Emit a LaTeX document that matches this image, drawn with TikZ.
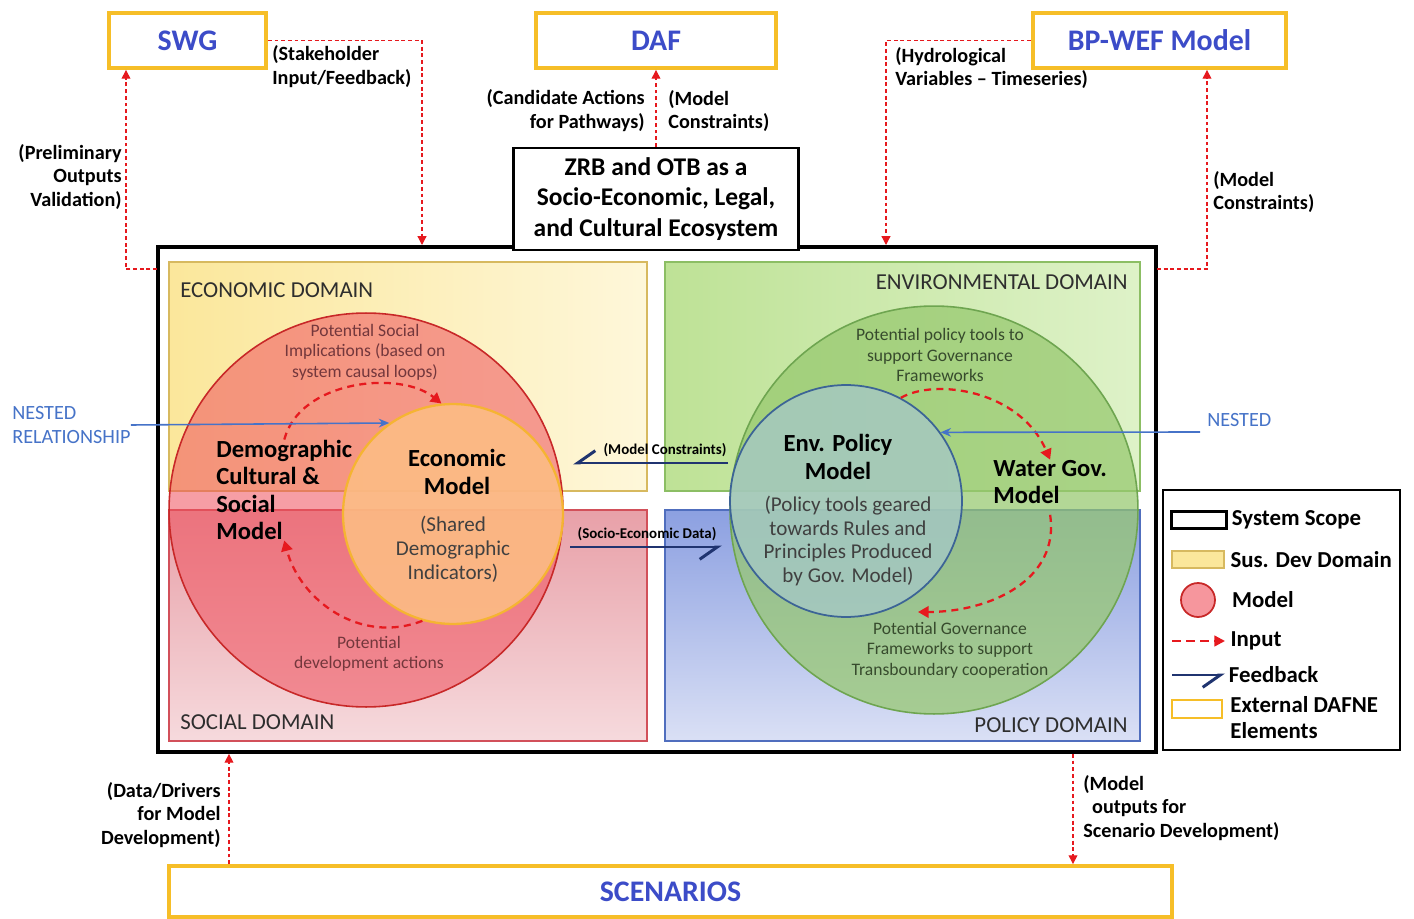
\documentclass[tikz,border=0pt]{standalone}
\usepackage{fontspec}
\setmainfont{Carlito}
\usetikzlibrary{arrows.meta,positioning}

\definecolor{extgold}{RGB}{246,190,40}
\definecolor{extblue}{RGB}{60,76,200}
\definecolor{inred}{RGB}{230,25,30}
\definecolor{fbnavy}{RGB}{32,52,112}
\definecolor{nestblue}{RGB}{70,115,200}
\definecolor{econA}{RGB}{251,231,155}
\definecolor{econB}{RGB}{254,247,218}
\definecolor{econE}{RGB}{215,185,95}
\definecolor{envA}{RGB}{190,226,150}
\definecolor{envB}{RGB}{222,242,200}
\definecolor{envE}{RGB}{140,190,100}
\definecolor{socA}{RGB}{232,160,168}
\definecolor{socB}{RGB}{246,218,221}
\definecolor{socE}{RGB}{210,80,90}
\definecolor{polA}{RGB}{140,160,225}
\definecolor{polB}{RGB}{218,224,245}
\definecolor{polE}{RGB}{80,110,190}
\definecolor{demofill}{RGB}{240,80,92}
\definecolor{demoline}{RGB}{200,40,40}
\definecolor{econfill}{RGB}{252,188,132}
\definecolor{econline}{RGB}{245,180,50}
\definecolor{wgovfill}{RGB}{150,200,110}
\definecolor{wgovline}{RGB}{110,165,80}
\definecolor{polfill}{RGB}{165,200,198}
\definecolor{polline}{RGB}{60,100,150}
\definecolor{rednote}{RGB}{115,55,60}
\definecolor{greennote}{RGB}{55,75,45}

\tikzset{
  extbox/.style={draw=extgold,line width=2.2pt,fill=white,inner sep=0pt,
    text=extblue,font=\fontsize{17}{20}\selectfont\bfseries},
  conlbl/.style={inner sep=0pt,font=\fontsize{11.5}{13.6}\selectfont\bfseries},
  inarrow/.style={draw=inred,line width=.7pt,dash pattern=on 2.2pt off 1.6pt,
    -{Triangle[length=5pt,width=5pt]}},
  looparrow/.style={draw=inred,line width=1.3pt,dash pattern=on 4pt off 3pt,
    -{Triangle[length=6pt,width=6.5pt]}},
  fbarrow/.style={draw=fbnavy,line width=1.7pt,
    -{Straight Barb[harpoon,swap,length=10pt,width=14pt]}},
  nestarrow/.style={draw=nestblue,line width=.9pt,-{Stealth[length=6pt,width=5pt]}},
  fblbl/.style={inner sep=0pt,font=\fontsize{8.5}{10}\selectfont\bfseries},
  domlbl/.style={inner sep=0pt,text=black!82,font=\fontsize{13}{15}\selectfont},
  model/.style={circle,inner sep=0pt},
  modlbl/.style={inner sep=0pt,font=\fontsize{14}{15.7}\selectfont\bfseries},
  loopnote/.style={inner sep=0pt,align=center,font=\fontsize{10}{11.6}\selectfont},
  innote/.style={inner sep=0pt,align=center,text=black!75,font=\fontsize{12}{13.6}\selectfont},
  lgtext/.style={inner sep=0pt,anchor=west,font=\fontsize{13}{15}\selectfont\bfseries},
}

\begin{document}
\begin{tikzpicture}[x=0.02cm,y=-0.02cm]
	\useasboundingbox[fill=white](0,0)rectangle(1414,919);
	% domains
	\draw[line width=.8pt,draw=econE,left color=econA,right color=econB](169,262)rectangle(647,491);
	\draw[line width=.8pt,draw=envE,left color=envA,right color=envB](665,262)rectangle(1140,491);
	\draw[line width=.8pt,draw=socE,top color=socA,bottom color=socB](169,510)rectangle(647,741);
	\draw[line width=.8pt,draw=polE,top color=polA,bottom color=polB](665,510)rectangle(1140,741);
	\node[domlbl,anchor=west](econdom)at(180,290){ECONOMIC DOMAIN};
	\node[domlbl,anchor=east](envdom)at(1128,282){ENVIRONMENTAL DOMAIN};
	\node[domlbl,anchor=west](socdom)at(180,722){SOCIAL DOMAIN};
	\node[domlbl,anchor=east](poldom)at(1128,725){POLICY DOMAIN};
	\node[draw,line width=2.2pt,inner sep=0pt,minimum width=19.96cm,minimum height=10.1cm](scope)at(657,499.5){};
	% models
	\node[model,minimum size=7.88cm,draw=demoline,fill=demofill,fill opacity=.55,line width=.9pt](demo)at(366,510){};
	\node[model,minimum size=4.4cm,draw=econline,fill=econfill,fill opacity=.9,line width=1.3pt](econ)at(453,514){};
	\node[model,minimum size=8.16cm,draw=wgovline,fill=wgovfill,fill opacity=.72,line width=.9pt](wgov)at(934,510){};
	\node[model,minimum size=4.64cm,draw=polline,fill=polfill,fill opacity=.78,line width=1pt](envpol)at(846,501){};
	\node[loopnote,text=rednote](socnote)at(365,352){Potential Social\\Implications (based on\\system causal loops)};
	\node[loopnote,text=rednote](devnote)at(369,654){Potential\\development actions};
	\node[loopnote,text=greennote](toolnote)at(940,355){Potential policy tools to\\support Governance\\Frameworks};
	\node[loopnote,text=greennote](govnote)at(950,650){Potential Governance\\Frameworks to support\\Transboundary cooperation};
	\node[modlbl,anchor=west,align=left](demolbl)at(216,490){Demographic\\Cultural \&\\Social\\Model};
	\node[modlbl,align=center](econlbl)at(457,472){Economic\\Model};
	\node[innote](econnote)at(453,549){(Shared\\Demographic\\Indicators)};
	\node[modlbl,align=center](envlbl)at(838,457){Env. Policy\\Model};
	\node[innote](polnote)at(848,541){(Policy tools geared\\towards Rules and\\Principles Produced\\by Gov. Model)};
	\node[modlbl,anchor=west,align=left](wgovlbl)at(993,482){Water Gov.\\Model};
	\coordinate(govend)at(918,612);
	\draw[looparrow](demolbl.north)..controls(300,380)and(400,370)..(econ.96);
	\draw[looparrow](econ.254)..controls(360,645)and(300,600)..(demolbl.south);
	\draw[looparrow](envpol.62)..controls(935,378)and(1020,390)..(wgovlbl.north);
	\draw[looparrow]([yshift=-6pt]wgovlbl.south)..controls(1060,580)and(990,612)..(govend);
	% feedback between domains
	\coordinate(mcA)at(728,463);
	\coordinate(mcB)at(573,463);
	\coordinate(seA)at(570,547);
	\coordinate(seB)at(722,547);
	\draw[fbarrow](mcA)--(mcB);
	\draw[fbarrow](seA)--(seB);
	\node[fblbl](mclbl)at(665,450){(Model Constraints)};
	\node[fblbl](selbl)at(647,534){(Socio-Economic Data)};
	% nested
	\node[inner sep=0pt,anchor=west,align=left,text=nestblue,font=\fontsize{11.5}{13.6}\selectfont](nestl)at(12,425){NESTED\\RELATIONSHIP};
	\node[inner sep=0pt,anchor=west,text=nestblue,font=\fontsize{11.5}{13.6}\selectfont](nestr)at(1207,420){NESTED};
	\coordinate(nestA)at(1200,432);
	\draw[nestarrow](nestl.east)--(econ.125);
	\draw[nestarrow](nestA)--(envpol.36);
	% external elements
	\node[draw,fill=white,line width=1.4pt,inner sep=0pt,minimum width=5.7cm,minimum height=2.04cm,align=center,
		font=\fontsize{14.5}{17.6}\selectfont\bfseries](title)at(656,199){ZRB and OTB as a\\Socio-Economic, Legal,\\and Cultural Ecosystem};
	\node[extbox,minimum width=3.14cm,minimum height=1.1cm](swg)at(187.5,40.5){SWG};
	\node[extbox,minimum width=4.8cm,minimum height=1.1cm](daf)at(656,40.5){DAF};
	\node[extbox,minimum width=5.06cm,minimum height=1.1cm](bp)at(1159.5,40.5){BP-WEF Model};
	\node[extbox,minimum width=20.06cm,minimum height=1.02cm](scen)at(670.5,891.5){SCENARIOS};
	\coordinate(swgin)at(422,245);
	\coordinate(prelim)at(157,269);
	\coordinate(hydin)at(886,245);
	\coordinate(bpcons)at(1157,269);
	\draw[inarrow](swg.east)-|(swgin);
	\draw[inarrow](prelim)-|(swg.south -| 126,0);
	\draw[inarrow](title.north)--(daf.south);
	\draw[inarrow](bp.west)-|(hydin);
	\draw[inarrow](bpcons)-|(bp.south -| 1207,0);
	\draw[inarrow](scen.north -| 229,0)--(scope.south -| 229,0);
	\draw[inarrow](scope.south -| 1073,0)--(scen.north -| 1073,0);
	\node[conlbl,anchor=west,align=left](stklbl)at(272,66.5){(Stakeholder\\Input/Feedback)};
	\node[conlbl,anchor=east,align=right](prelbl)at(122,177){(Preliminary\\Outputs\\Validation)};
	\node[conlbl,anchor=east,align=right](candlbl)at(645,111){(Candidate Actions\\for Pathways)};
	\node[conlbl,anchor=west,align=left](daflbl)at(668,111){(Model\\Constraints)};
	\node[conlbl,anchor=west,align=left](hydlbl)at(895,68){(Hydrological\\Variables -- Timeseries)};
	\node[conlbl,anchor=west,align=left](bplbl)at(1213,192){(Model\\Constraints)};
	\node[conlbl,anchor=east,align=right](drvlbl)at(221,815){(Data/Drivers\\for Model\\Development)};
	\node[conlbl,anchor=west,align=left](outlbl)at(1083,808){(Model\\\hspace*{5pt}outputs for\\Scenario Development)};
	% legend
	\node[draw,line width=1.5pt,inner sep=0pt,minimum width=4.74cm,minimum height=5.2cm](legend)at(1281.5,620){};
	\node[draw,line width=1.8pt,inner sep=0pt,minimum width=1.1cm,minimum height=.34cm](lgscope)at(1199,520){};
	\node[draw=econE,fill=econA,line width=1pt,inner sep=0pt,minimum width=1.04cm,minimum height=.34cm](lgdom)at(1198,559.5){};
	\node[model,draw=demoline,fill=demofill!60,line width=1pt,minimum size=.68cm](lgmodel)at(1198,600){};
	\node[draw=extgold,line width=1.6pt,inner sep=0pt,minimum width=1cm,minimum height=.36cm](lgext)at(1197,709){};
	\coordinate(lginA)at(1172,641);
	\coordinate(lginB)at(1225,641);
	\coordinate(lgfbA)at(1172,675);
	\coordinate(lgfbB)at(1225,675);
	\draw[inred,line width=1.3pt,dash pattern=on 5pt off 3pt,-{Triangle[length=6pt,width=6pt]}](lginA)--(lginB);
	\draw[fbarrow](lgfbA)--(lgfbB);
	\node[lgtext,right=2pt of lgscope]{System Scope};
	\node[lgtext,right=3pt of lgdom]{Sus. Dev Domain};
	\node[lgtext,right=9pt of lgmodel]{Model};
	\node[lgtext,right=3pt of lginB]{Input};
	\node[lgtext,right=2pt of lgfbB]{Feedback};
	\node[lgtext,anchor=north west,align=left](lgextlbl)at(1230,696){External DAFNE\\Elements};
\end{tikzpicture}
\end{document}
